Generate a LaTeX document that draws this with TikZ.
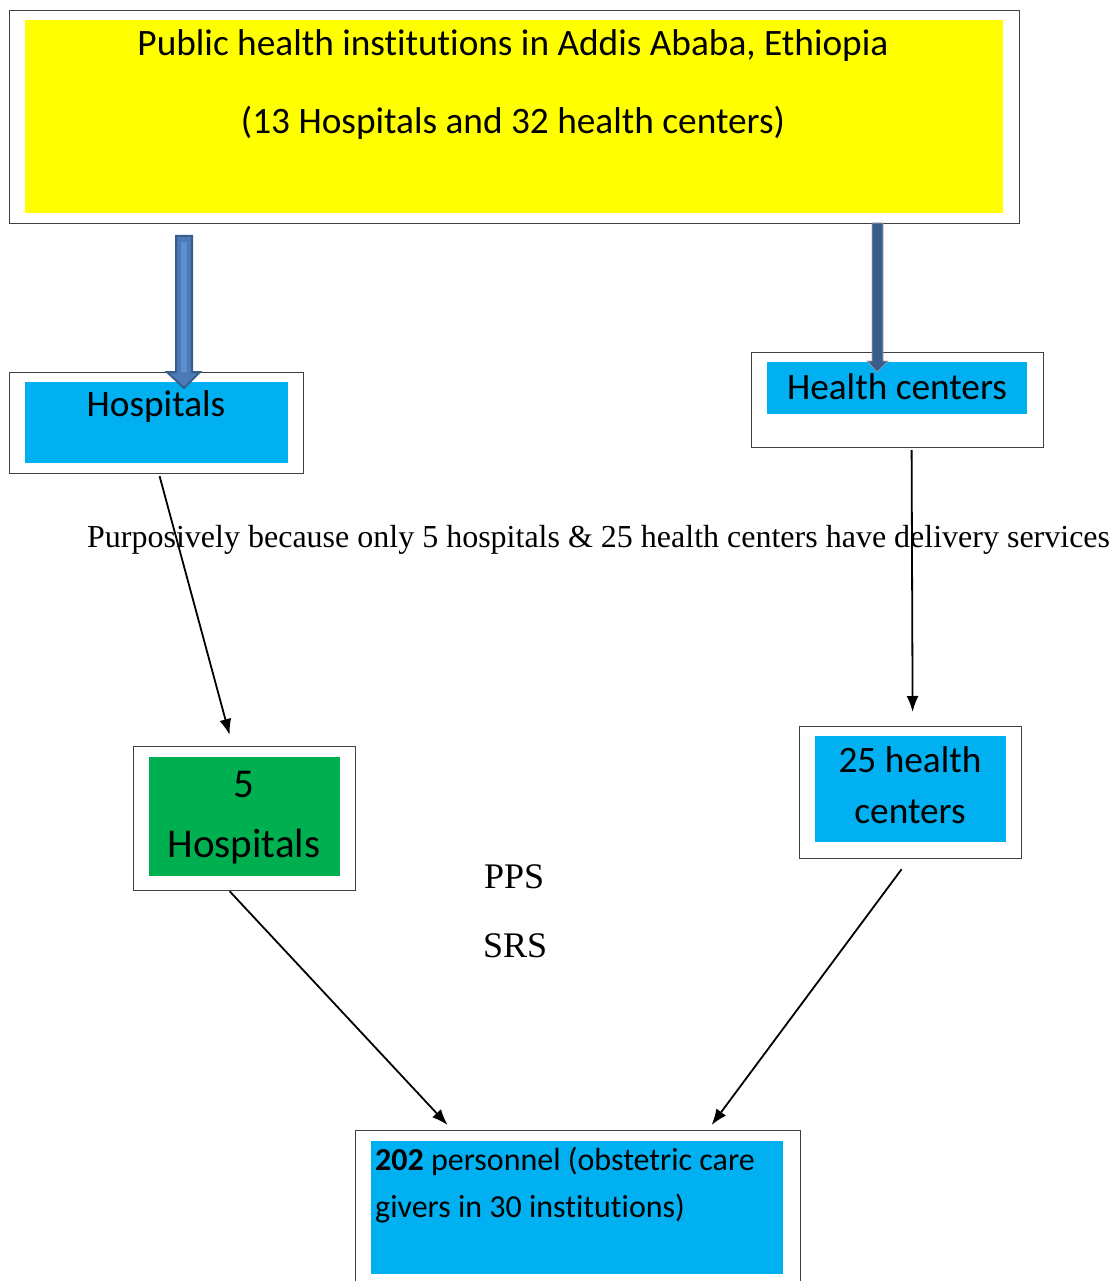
\documentclass[tikz,border=0pt]{standalone}
\usepackage{fontspec}
\setmainfont{Liberation Serif}
\newfontfamily\calib[Ligatures=NoCommon]{Carlito}
\usetikzlibrary{arrows.meta,calc}
\definecolor{ycol}{HTML}{FFFF00}
\definecolor{ccol}{HTML}{00B0F0}
\definecolor{gcol}{HTML}{00B050}
\definecolor{barrow}{HTML}{4A7BB7}
\definecolor{barrowdk}{HTML}{385D8A}
\definecolor{barrowlt}{HTML}{5E90D0}
\begin{document}
\begin{tikzpicture}[x=1pt,y=-1pt,
  outerbox/.style={draw=black!75,fill=white,line width=1.2pt,inner sep=0pt,anchor=north west},
  innerbox/.style={inner sep=0pt,anchor=north west,draw=none},
  btext/.style={font=\calib\fontsize{37.3}{44}\selectfont,anchor=base,inner sep=0pt},
  stext/.style={font=\fontsize{32}{38}\selectfont,anchor=base west,inner sep=0pt},
  conn/.style={line width=1.8pt,-{Latex[length=16pt,width=12pt]}}]
\useasboundingbox (0,0) rectangle (1117,1281);
% top box
\node[outerbox,minimum width=1010,minimum height=213] (topout) at (9,10) {};
\node[innerbox,fill=ycol,minimum width=978,minimum height=193] (topin) at (25,20) {};
\node[btext] (t1) at (513,56) {Public health institutions in Addis Ababa, Ethiopia};
\node[btext] (t2) at (513,134) {(13 Hospitals and 32 health centers)};
% hospitals
\node[outerbox,minimum width=294,minimum height=101] (hospout) at (9,372) {};
\node[innerbox,fill=ccol,minimum width=263,minimum height=81] (hospin) at (25,382) {};
\node[btext] (hosptx) at (156,416) {Hospitals};
% health centers
\node[outerbox,minimum width=292,minimum height=95] (hcout) at (751,352) {};
\node[innerbox,fill=ccol,minimum width=260,minimum height=52] (hcin) at (767,362) {};
\node[btext] (hctx) at (897,399) {Health centers};
% 5 hospitals
\node[outerbox,minimum width=222,minimum height=144] (h5out) at (133,746) {};
\node[innerbox,fill=gcol,minimum width=191,minimum height=119] (h5in) at (149,757) {};
\node[btext,font=\calib\fontsize{41}{48}\selectfont] (h5a) at (244,797) {5};
\node[btext,font=\calib\fontsize{41}{48}\selectfont] (h5b) at (244,857) {Hospitals};
% 25 health centers
\node[outerbox,minimum width=222,minimum height=132] (h25out) at (799,726) {};
\node[innerbox,fill=ccol,minimum width=191,minimum height=106] (h25in) at (815,736) {};
\node[btext] (h25a) at (910,772) {25 health};
\node[btext] (h25b) at (910,823) {centers};
% bottom box
\node[outerbox,minimum width=445,minimum height=170] (botout) at (355,1130) {};
\node[innerbox,fill=ccol,minimum width=412,minimum height=133] (botin) at (371,1141) {};
\node[btext,anchor=base west,font=\calib\fontsize{32}{40}\selectfont] (b1) at (375,1170) {\textbf{202} personnel (obstetric care};
\node[btext,anchor=base west,font=\calib\fontsize{32}{40}\selectfont] (b2) at (375,1217) {givers in 30 institutions)};
% block arrows
\fill[barrow,draw=barrowdk,line width=2pt,line join=miter]
  (176,236) -- (192,236) -- (192,372) -- (200,372) -- (184,388) -- (167,372) -- (176,372) -- cycle;
\fill[barrowlt] (181,242) rectangle (187,372);
\fill[barrowdk,draw=black!35,line width=0.6pt]
  (872,223) -- (883,223) -- (883,361) -- (888,361) -- (877,372) -- (867,361) -- (872,361) -- cycle;
% connectors
\draw[conn] ($(hospout.south)+(3,2)$) -- ($(h5out.north)+(-15,-11)$);
\draw[conn] ($(hcout.south)+(14,2)$) -- ($(h25out.north)+(2,-14)$);
\draw[conn] ($(h5out.south)+(-15,0)$) -- ($(botout.north)+(-130.5,-5)$);
\draw[conn] ($(h25out.south)+(-9,10)$) -- ($(botout.north)+(133.5,-5)$);
% free texts
\node[stext] (purp) at (87,547) {Purposively because only 5 hospitals \& 25 health centers have delivery services};
\node[stext,font=\fontsize{36}{42}\selectfont] (pps) at (484,888) {PPS};
\node[stext,font=\fontsize{36}{42}\selectfont] (srs) at (483,957) {SRS};
\end{tikzpicture}
\end{document}
